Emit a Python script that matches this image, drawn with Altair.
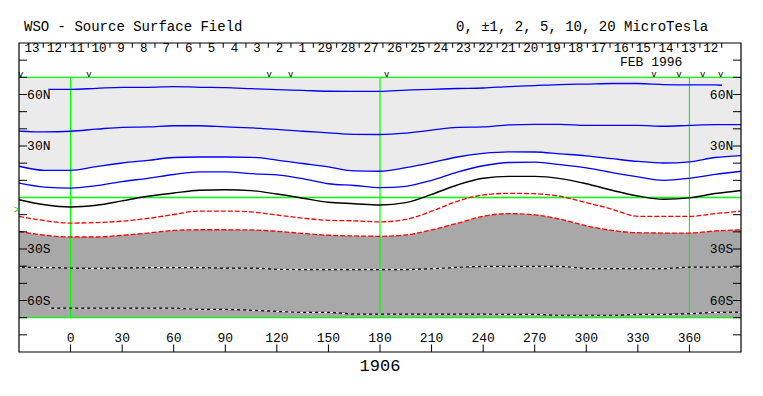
import altair as alt
import pandas as pd

# ---------------- data ----------------
LON = [-30, -15, 0, 15, 30, 45, 60, 75, 90, 105, 120, 135, 150, 165, 180,
       195, 210, 225, 240, 255, 270, 285, 300, 315, 330, 345, 360, 375, 390]
LON_P10 = [-13, 0, 15, 30, 45, 60, 75, 90, 105, 120, 135, 150, 165, 180,
           195, 210, 225, 240, 255, 270, 285, 300, 315, 330, 345, 360, 375, 379]
LON_M10 = [-13, 0, 15, 30, 45, 60, 75, 90, 105, 120, 135, 150, 165, 180,
           195, 210, 225, 240, 255, 270, 285, 300, 315, 330, 345, 360, 375, 390]

POS10 = [63.0, 63.0, 63.6, 64.2, 64.2, 64.6, 64.2, 64.0, 63.4, 62.8, 62.4, 61.9, 61.8, 61.8,
         62.6, 63.0, 63.5, 63.8, 64.6, 65.2, 65.8, 66.1, 66.4, 66.4, 65.8, 65.6, 65.6, 65.4]
POS5 = [38.7, 38.2, 38.6, 39.8, 40.9, 41.1, 41.8, 41.8, 41.1, 40.5, 39.7, 38.6, 37.7, 36.8, 36.7,
        37.5, 39.2, 40.8, 41.1, 42.3, 42.6, 42.6, 42.0, 42.0, 42.0, 41.5, 42.0, 42.4, 42.4]
POS2 = [18.2, 15.8, 15.8, 18.0, 20.1, 21.6, 23.3, 23.6, 23.6, 23.4, 21.8, 19.8, 17.8, 15.5, 15.3,
        17.4, 20.3, 23.6, 25.7, 26.6, 26.5, 25.4, 24.3, 22.6, 21.0, 20.1, 20.8, 23.3, 24.4]
POS1 = [8.4, 6.1, 5.5, 6.9, 9.3, 11.2, 13.4, 14.9, 14.9, 13.9, 13.2, 11.0, 8.0, 7.0, 5.7,
        6.5, 10.0, 14.8, 18.5, 20.4, 20.6, 19.1, 17.2, 14.5, 12.0, 10.0, 11.2, 13.5, 15.3]
ZERO = [-1.3, -4.2, -5.5, -4.5, -2.0, 0.7, 2.6, 4.2, 4.5, 4.0, 2.0, -0.4, -2.8, -3.6, -4.4,
        -3.0, 1.8, 7.3, 11.2, 12.3, 12.3, 11.0, 8.0, 4.2, 0.9, -1.0, -0.2, 2.3, 4.1]
NEG1 = [-11.0, -13.5, -14.9, -14.6, -13.8, -12.2, -9.9, -7.9, -7.9, -8.4, -10.2, -12.0, -13.3, -13.6, -14.2,
        -12.8, -8.0, -2.2, 1.5, 2.4, 2.2, 0.6, -3.0, -6.8, -11.0, -11.0, -11.0, -9.4, -8.0]
NEG2 = [-19.7, -22.0, -23.0, -23.0, -22.0, -20.7, -19.2, -18.8, -18.8, -18.9, -19.7, -20.9, -22.0, -22.4, -22.6,
        -21.8, -18.9, -15.0, -10.9, -9.4, -10.1, -12.7, -16.5, -19.2, -20.5, -20.7, -20.7, -19.5, -18.8]
NEG5 = [-40.5, -40.8, -41.1, -41.3, -41.1, -40.9, -40.9, -40.9, -41.1, -41.1, -41.8, -42.0, -42.0, -42.0, -42.0,
        -42.0, -41.5, -40.7, -40.1, -40.1, -40.1, -40.1, -41.4, -41.4, -41.4, -41.4, -40.6, -40.6, -40.5]
NEG10 = [-64.4, -64.4, -64.4, -64.4, -64.4, -64.4, -65.2, -65.2, -65.7, -66.3, -66.9, -66.9, -67.9, -67.9,
         -67.9, -67.9, -67.9, -67.9, -68.1, -68.1, -68.6, -68.6, -68.6, -68.1, -68.1, -67.7, -66.9, -66.8]

DAY_LABELS = ["13", "12", "11", "10", "9", "8", "7", "6", "5", "4", "3", "2", "1",
              "29", "28", "27", "26", "25", "24", "23", "22", "21", "20", "19", "18",
              "17", "16", "15", "14", "13", "12"]
DAY_TICKS = [-15.9, -2.9, 10.3, 22.9, 35.9, 49.1, 62.3, 75.3, 88.8, 102.0, 115.0, 128.2,
             141.2, 154.8, 167.9, 181.7, 195.5, 208.5, 222.3, 234.8, 248.2, 261.0, 274.4,
             287.2, 300.6, 313.8, 326.8, 339.6, 353.2, 366.1, 378.8]
V_MARKS = [-29.0, 10.7, 115.6, 128.0, 183.9, 339.4, 353.9, 367.7, 378.2]
LON_TICKS = [0, 30, 60, 90, 120, 150, 180, 210, 240, 270, 300, 330, 360]
LAT_TICKS = [-80, -70, -60, -50, -40, -30, -20, -10, 10, 20, 30, 40, 50, 60, 70, 80]
LAT_LABELS = [60, 30, -30, -60]
LAT_TEXT = ["60N", "30N", "30S", "60S"]
EARTH_LAT = -7.3

FONT = "Liberation Mono"
GREEN = "#00ff00"

xs = alt.Scale(domain=[-30, 390], nice=False, zero=False)
ys = alt.Scale(domain=[-90, 90], nice=False, zero=False)


def X(f="lon"):
    return alt.X(f"{f}:Q", scale=xs, axis=None)


def Y(f="lat"):
    return alt.Y(f"{f}:Q", scale=ys, axis=None)


layers = []

# shaded regions
light = pd.DataFrame({"lon": LON, "lat": POS2, "top": [70] * len(LON)})
layers.append(alt.Chart(light).mark_area(color="#ebebeb", interpolate="monotone")
              .encode(x=X(), y=Y(), y2="top:Q"))
dark = pd.DataFrame({"lon": LON, "lat": NEG2, "bot": [-70] * len(LON)})
layers.append(alt.Chart(dark).mark_area(color="#a8a8a8", interpolate="monotone")
              .encode(x=X(), y=Y(), y2="bot:Q"))

# green reference lines
gh = pd.DataFrame({"lat": [70, 0, -70], "lon": [-30] * 3, "lon2": [390] * 3})
layers.append(alt.Chart(gh).mark_rule(color=GREEN, strokeWidth=1.3)
              .encode(x=X(), x2="lon2:Q", y=Y()))
gv = pd.DataFrame({"lon": [0, 180, 360], "lat": [-70] * 3, "lat2": [70] * 3})
layers.append(alt.Chart(gv).mark_rule(color=GREEN, strokeWidth=1.2)
              .encode(x=X(), y=Y(), y2="lat2:Q"))


def contour(lons, lats, color, width, dash=None):
    df = pd.DataFrame({"lon": lons, "lat": lats})
    kw = dict(color=color, strokeWidth=width, interpolate="monotone")
    if dash:
        kw["strokeDash"] = dash
    return alt.Chart(df).mark_line(**kw).encode(x=X(), y=Y())


layers.append(contour(LON_P10, POS10, "#0000ff", 1.3))
layers.append(contour(LON, POS5, "#0000ff", 1.3))
layers.append(contour(LON, POS2, "#0000ff", 1.3))
layers.append(contour(LON, POS1, "#0000ff", 1.3))
layers.append(contour(LON, ZERO, "#000000", 1.4))
layers.append(contour(LON, NEG1, "#ff0000", 1.3, [5, 2]))
layers.append(contour(LON, NEG2, "#ff0000", 1.3, [5, 2]))
layers.append(contour(LON, NEG5, "#000000", 1.2))
layers.append(contour(LON, NEG5, "#ffffff", 1.2, [3, 3]))
layers.append(contour(LON_M10, NEG10, "#000000", 1.2))
layers.append(contour(LON_M10, NEG10, "#ffffff", 1.2, [3, 3]))

# frame
frame = pd.DataFrame({"lon": [-30], "lon2": [390], "lat": [-90], "lat2": [90]})
layers.append(alt.Chart(frame).mark_rect(fillOpacity=0, stroke="black", strokeWidth=1.2)
              .encode(x=X(), x2="lon2:Q", y=Y(), y2="lat2:Q"))

# ticks
lt = pd.DataFrame({"lat": LAT_TICKS, "lon": [-30] * len(LAT_TICKS), "lon2": [-25.3] * len(LAT_TICKS)})
layers.append(alt.Chart(lt).mark_rule(color="black", strokeWidth=1)
              .encode(x=X(), x2="lon2:Q", y=Y()))
rt = pd.DataFrame({"lat": LAT_TICKS, "lon": [385.3] * len(LAT_TICKS), "lon2": [390] * len(LAT_TICKS)})
layers.append(alt.Chart(rt).mark_rule(color="black", strokeWidth=1)
              .encode(x=X(), x2="lon2:Q", y=Y()))
tt = pd.DataFrame({"lon": DAY_TICKS, "lat": [90] * len(DAY_TICKS), "lat2": [87.2] * len(DAY_TICKS)})
layers.append(alt.Chart(tt).mark_rule(color="black", strokeWidth=1)
              .encode(x=X(), y=Y(), y2="lat2:Q"))
bt = pd.DataFrame({"lon": LON_TICKS, "lat": [-90] * len(LON_TICKS), "lat2": [-85.6] * len(LON_TICKS)})
layers.append(alt.Chart(bt).mark_rule(color="black", strokeWidth=1)
              .encode(x=X(), y=Y(), y2="lat2:Q"))

# day labels (centred between day ticks)
prev = [DAY_TICKS[0] - (DAY_TICKS[1] - DAY_TICKS[0])] + DAY_TICKS[:-1]
mids = [(a + b) / 2 for a, b in zip(prev, DAY_TICKS)]
dl = pd.DataFrame({"lon": mids, "lat": [86.8] * len(mids), "t": DAY_LABELS})
layers.append(alt.Chart(dl).mark_text(font=FONT, fontSize=12.5, align="center", baseline="middle", color="black")
              .encode(x=X(), y=Y(), text="t:N"))

# observation marks
vm = pd.DataFrame({"lon": V_MARKS, "lat": [70.2] * len(V_MARKS), "t": ["v"] * len(V_MARKS)})
layers.append(alt.Chart(vm).mark_text(font=FONT, fontSize=9, align="center", baseline="alphabetic", color="black")
              .encode(x=X(), y=Y(), text="t:N"))

# longitude labels
bl = pd.DataFrame({"lon": LON_TICKS, "lat": [-81.7] * len(LON_TICKS), "t": [str(v) for v in LON_TICKS]})
layers.append(alt.Chart(bl).mark_text(font=FONT, fontSize=13, align="center", baseline="middle", color="black")
              .encode(x=X(), y=Y(), text="t:N"))

# latitude labels
ll = pd.DataFrame({"lat": LAT_LABELS, "lon": [-25.3] * 4, "t": LAT_TEXT})
layers.append(alt.Chart(ll).mark_text(font=FONT, fontSize=13, align="left", baseline="middle", color="black")
              .encode(x=X(), y=Y(), text="t:N"))
rl = pd.DataFrame({"lat": LAT_LABELS, "lon": [385.5] * 4, "t": LAT_TEXT})
layers.append(alt.Chart(rl).mark_text(font=FONT, fontSize=13, align="right", baseline="middle", color="black")
              .encode(x=X(), y=Y(), text="t:N"))

# earth latitude marker
em = pd.DataFrame({"lon": [-31.5], "lat": [EARTH_LAT], "t": [">"]})
layers.append(alt.Chart(em).mark_text(font=FONT, fontSize=10, align="center", baseline="middle", color="#00cc00")
              .encode(x=X(), y=Y(), text="t:N"))


def label(txt, x, y, size=14, align="left"):
    return (alt.Chart(pd.DataFrame({"t": [txt]}))
            .mark_text(font=FONT, fontSize=size, align=align, baseline="middle", color="black")
            .encode(x=alt.value(x), y=alt.value(y), text="t:N"))


layers.append(label("WSO - Source Surface Field", 5, -16))
layers.append(label("0, \u00b11, 2, 5, 10, 20 MicroTesla", 437, -16))
layers.append(label("FEB 1996", 601, 19.3, size=13))
layers.append(label("1906", 361, 323, size=17, align="center"))

chart = (alt.layer(*layers)
         .properties(width=722, height=309,
                     padding={"left": 11, "top": 35, "right": 14, "bottom": 38},
                     autosize=alt.AutoSizeParams(type="none"))
         .configure_view(strokeWidth=0))

chart.save("out.html", embed_options={"renderer": "svg", "actions": False})
